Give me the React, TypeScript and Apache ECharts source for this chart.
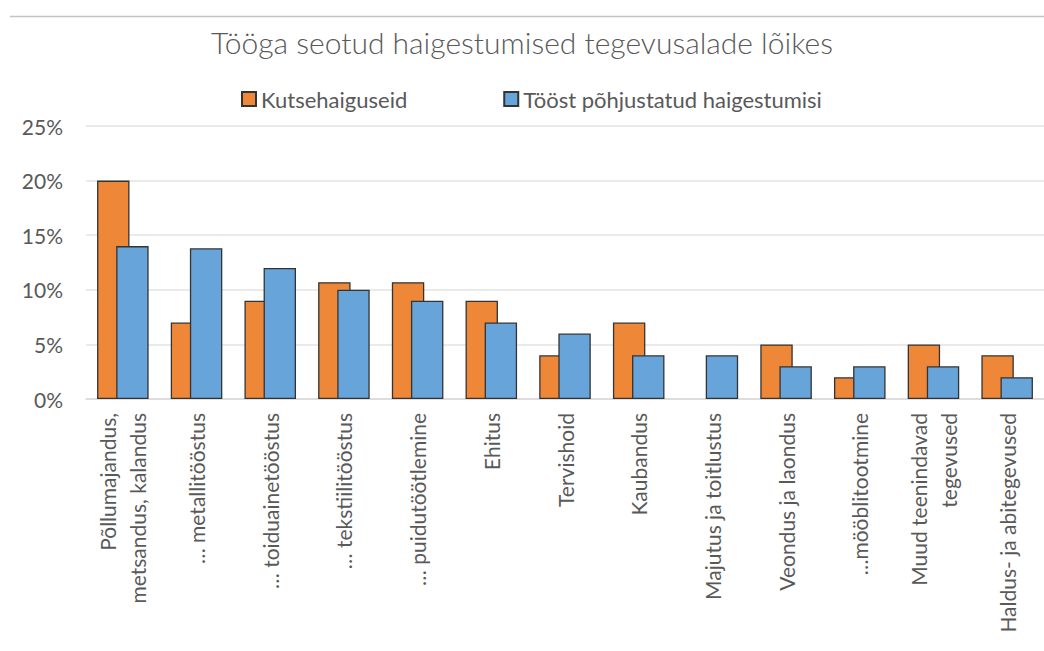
import React, { useEffect, useRef } from "react";
import * as echarts from "echarts";

const title = "Tööga seotud haigestumised tegevusalade lõikes";
const categories = [
  "Põllumajandus,\nmetsandus, kalandus",
  "… metallitööstus",
  "… toiduainetööstus",
  "… tekstiilitööstus",
  "… puidutöötlemine",
  "Ehitus",
  "Tervishoid",
  "Kaubandus",
  "Majutus ja toitlustus",
  "Veondus ja laondus",
  "…mööblitootmine",
  "Muud teenindavad\ntegevused",
  "Haldus- ja abitegevused",
];
const seriesNames = ["Kutsehaiguseid", "Tööst põhjustatud haigestumisi"];
// percent values
const kutsehaiguseid = [20, 7, 9, 10.7, 10.7, 9, 4, 7, null, 5, 2, 5, 4];
const toostPohjustatud = [14, 13.8, 12, 10, 9, 7, 6, 4, 4, 3, 3, 3, 2];
const yTicks = { min: 0, max: 25, interval: 5 };

const FONT = "Lato, 'Open Sans', sans-serif";
const TEXT = "#595959";

export default function App() {
  const ref = useRef<HTMLDivElement>(null);
  useEffect(() => {
    document.body.style.margin = "0";
    const chart = echarts.init(ref.current!, null, { renderer: "svg" });
    chart.setOption({
      animation: false,
      backgroundColor: "#ffffff",
      textStyle: { fontFamily: FONT },
      title: {
        text: title,
        left: "center",
        top: 22,
        textStyle: { fontFamily: FONT, fontSize: 30, fontWeight: 300, color: TEXT },
      },
      legend: {
        left: 236,
        top: 83,
        itemWidth: 14,
        itemHeight: 14,
        itemGap: 96,
        icon: "rect",
        textStyle: { fontFamily: FONT, fontSize: 22, color: TEXT },
        data: seriesNames,
      },
      grid: { left: 86, right: -10, top: 126, bottom: 252, containLabel: false },
      graphic: [
        {
          type: "line",
          shape: { x1: 10, y1: 16.5, x2: 1044, y2: 16.5 },
          style: { stroke: "#c4c4c4", lineWidth: 1.5 },
        },
      ],
      xAxis: {
        type: "category",
        data: categories,
        axisTick: { show: false },
        axisLine: { lineStyle: { color: "#d9d9d9", width: 1.5 } },
        axisLabel: {
          rotate: 90,
          interval: 0,
          margin: 14,
          fontFamily: FONT,
          fontSize: 21,
          color: TEXT,
          lineHeight: 30,
        },
      },
      yAxis: {
        type: "value",
        min: yTicks.min,
        max: yTicks.max,
        interval: yTicks.interval,
        axisLine: { show: false },
        axisTick: { show: false },
        splitLine: { lineStyle: { color: "#e3e3e3", width: 1.5 } },
        axisLabel: {
          formatter: "{value}%",
          margin: 23,
          fontFamily: FONT,
          fontSize: 21,
          color: TEXT,
        },
      },
      series: [
        {
          name: seriesNames[0],
          type: "bar",
          data: kutsehaiguseid,
          barWidth: "44%",
          barGap: "-41%",
          itemStyle: { color: "#EE8838", borderColor: "#333333", borderWidth: 1.3 },
        },
        {
          name: seriesNames[1],
          type: "bar",
          data: toostPohjustatud,
          barWidth: "44%",
          barGap: "-41%",
          itemStyle: { color: "#66A4DA", borderColor: "#333333", borderWidth: 1.3 },
        },
      ],
    });
    return () => chart.dispose();
  }, []);
  return (
    <div
      ref={ref}
      style={{ position: "absolute", left: 0, top: 0, width: 1044, height: 651 }}
    />
  );
}
